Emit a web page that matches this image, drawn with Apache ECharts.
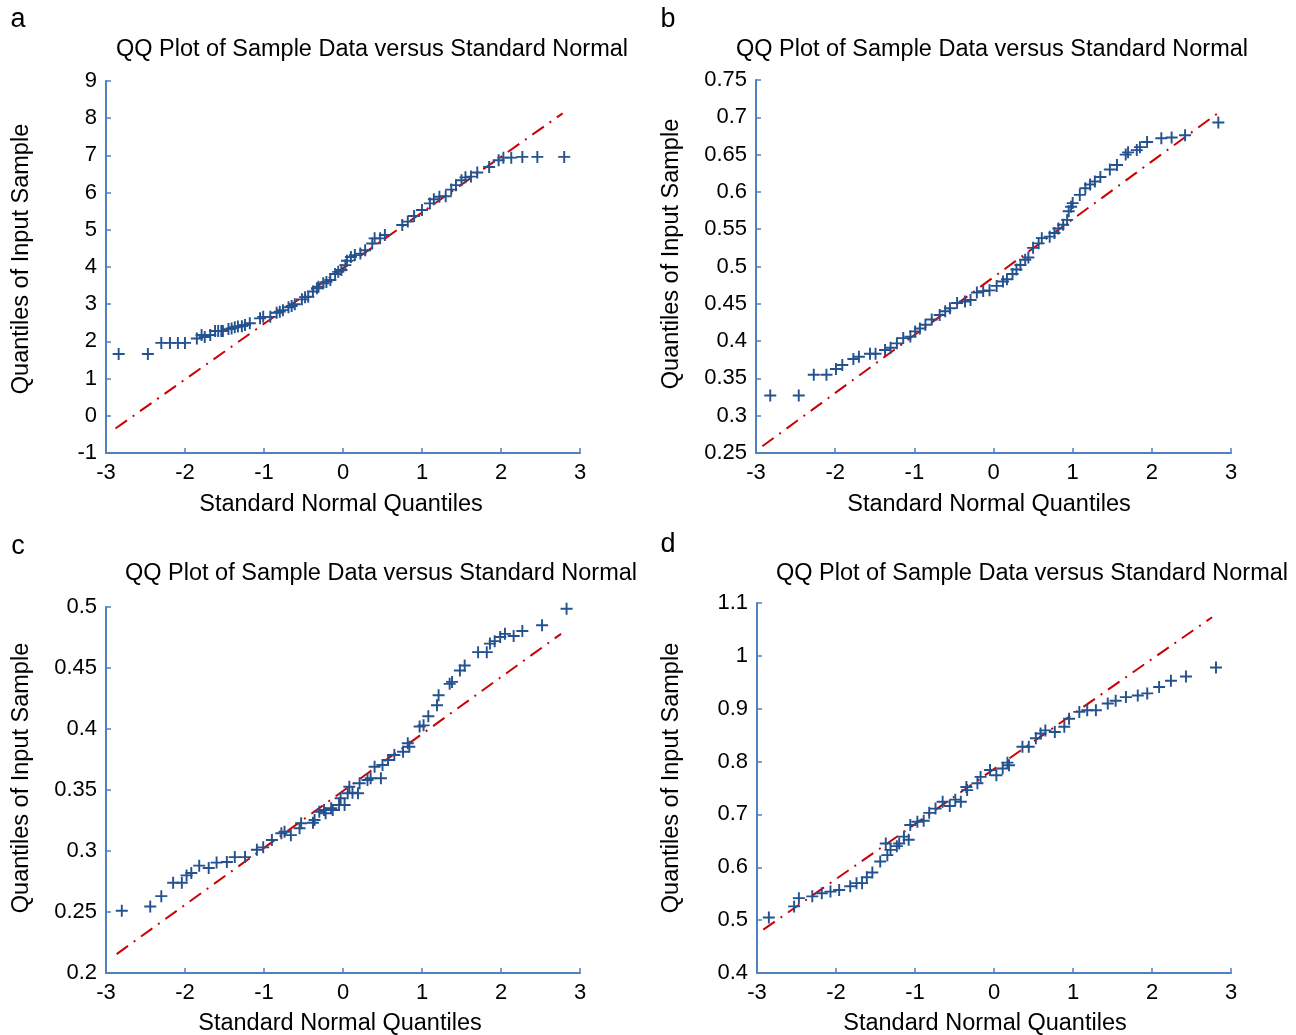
<!DOCTYPE html>
<html>
<head>
<meta charset="utf-8">
<script src="https://cdn.jsdelivr.net/npm/echarts@6/dist/echarts.min.js"></script>
<style>
html,body{margin:0;padding:0;background:#fff;}
#chart{width:1296px;height:1035px;}
</style>
</head>
<body>
<div id="chart"></div>
<script>
// ---------- DATA ----------
const xTicks = [-3, -2, -1, 0, 1, 2, 3];

// Panel a
const aX = [-2.84,-2.47,-2.30,-2.19,-2.09,-2.00,-1.85,-1.79,-1.75,-1.68,-1.62,-1.58,-1.54,-1.52,-1.45,-1.41,-1.37,-1.33,-1.28,-1.24,-1.18,-1.05,-1.01,-0.92,-0.84,-0.80,-0.76,-0.69,-0.65,-0.61,-0.52,-0.48,-0.44,-0.38,-0.33,-0.31,-0.25,-0.21,-0.16,-0.10,-0.06,-0.02,0.03,0.05,0.10,0.15,0.22,0.28,0.37,0.40,0.47,0.53,0.75,0.82,0.90,1.00,1.10,1.15,1.22,1.30,1.37,1.43,1.50,1.55,1.62,1.70,1.85,1.97,2.03,2.13,2.27,2.46,2.80];
const aY = [1.66,1.66,1.96,1.96,1.96,1.96,2.08,2.17,2.12,2.17,2.28,2.28,2.28,2.28,2.33,2.35,2.38,2.40,2.41,2.44,2.49,2.62,2.66,2.66,2.77,2.80,2.84,2.92,2.95,3.00,3.13,3.19,3.20,3.34,3.43,3.47,3.56,3.60,3.65,3.81,3.87,3.92,4.05,4.17,4.27,4.32,4.36,4.45,4.63,4.77,4.77,4.86,5.13,5.22,5.37,5.53,5.71,5.82,5.89,5.90,6.08,6.20,6.33,6.41,6.43,6.54,6.69,6.87,6.94,6.94,6.96,6.96,6.96];
const aLineX = [-2.88, 2.78];
const aLineY = [-0.34, 8.13];

// Panel b
const bX = [-2.82,-2.46,-2.27,-2.11,-1.99,-1.91,-1.77,-1.70,-1.56,-1.49,-1.37,-1.30,-1.22,-1.14,-1.05,-0.99,-0.93,-0.86,-0.78,-0.68,-0.61,-0.55,-0.46,-0.36,-0.29,-0.21,-0.13,-0.05,0.04,0.12,0.17,0.24,0.29,0.34,0.40,0.44,0.50,0.57,0.61,0.71,0.77,0.82,0.88,0.93,0.95,0.98,1.00,1.09,1.16,1.22,1.28,1.35,1.47,1.56,1.67,1.70,1.81,1.85,1.94,2.12,2.25,2.42,2.84];
const bY = [0.327,0.327,0.355,0.355,0.3625,0.368,0.376,0.379,0.383,0.383,0.388,0.391,0.397,0.404,0.406,0.413,0.417,0.422,0.429,0.435,0.440,0.444,0.451,0.453,0.455,0.465,0.467,0.468,0.474,0.480,0.483,0.490,0.496,0.502,0.509,0.512,0.525,0.531,0.538,0.540,0.545,0.551,0.556,0.5625,0.574,0.580,0.585,0.596,0.605,0.610,0.614,0.620,0.630,0.636,0.650,0.653,0.656,0.660,0.667,0.672,0.673,0.676,0.693];
const bLineX = [-2.92, 2.86];
const bLineY = [0.259, 0.7076];

// Panel c
const cX = [-2.80,-2.44,-2.30,-2.15,-2.04,-1.98,-1.92,-1.82,-1.70,-1.60,-1.47,-1.37,-1.24,-1.09,-1.01,-0.90,-0.78,-0.74,-0.66,-0.55,-0.53,-0.38,-0.36,-0.30,-0.24,-0.22,-0.15,-0.13,-0.05,-0.03,0.02,0.06,0.08,0.12,0.19,0.21,0.31,0.35,0.40,0.48,0.50,0.57,0.65,0.76,0.82,0.84,0.97,1.02,1.08,1.19,1.21,1.35,1.38,1.48,1.54,1.71,1.82,1.86,1.92,1.99,2.05,2.16,2.27,2.52,2.83];
const cY = [0.251,0.2545,0.263,0.274,0.274,0.280,0.282,0.288,0.286,0.2905,0.291,0.295,0.295,0.301,0.303,0.309,0.3145,0.3158,0.313,0.3186,0.3227,0.3232,0.3254,0.3322,0.3336,0.331,0.335,0.3336,0.3377,0.3432,0.3377,0.3473,0.3527,0.3478,0.3473,0.3555,0.3582,0.3596,0.369,0.3596,0.3705,0.3746,0.3787,0.3814,0.3883,0.3855,0.402,0.403,0.4105,0.4195,0.4277,0.437,0.4386,0.448,0.452,0.463,0.463,0.470,0.472,0.4754,0.478,0.4762,0.4803,0.485,0.4986];
const cLineX = [-2.865, 2.76];
const cLineY = [0.2155, 0.478];

// Panel d
const dX = [-2.85,-2.53,-2.47,-2.30,-2.18,-2.07,-1.96,-1.82,-1.74,-1.67,-1.61,-1.54,-1.44,-1.35,-1.37,-1.31,-1.23,-1.20,-1.14,-1.08,-1.06,-0.97,-0.89,-0.82,-0.74,-0.65,-0.56,-0.49,-0.42,-0.35,-0.34,-0.21,-0.17,-0.05,0.03,0.11,0.17,0.19,0.36,0.44,0.53,0.59,0.65,0.77,0.89,0.95,1.08,1.18,1.29,1.44,1.54,1.67,1.82,1.94,2.09,2.24,2.43,2.81];
const dY = [0.505,0.526,0.5416,0.545,0.551,0.554,0.557,0.564,0.570,0.570,0.581,0.590,0.611,0.623,0.645,0.633,0.640,0.645,0.658,0.652,0.680,0.686,0.688,0.703,0.711,0.724,0.716,0.728,0.724,0.752,0.746,0.759,0.771,0.784,0.774,0.787,0.798,0.793,0.828,0.828,0.844,0.853,0.859,0.856,0.866,0.881,0.894,0.897,0.897,0.910,0.915,0.922,0.925,0.929,0.941,0.953,0.961,0.978];
const dLineX = [-2.92, 2.76];
const dLineY = [0.482, 1.073];

// y-axis ranges / ticks
const aYAxis = {min: -1, max: 9, interval: 1};
const bYAxis = {min: 0.25, max: 0.75, interval: 0.05};
const cYAxis = {min: 0.2, max: 0.5, interval: 0.05};
const dYAxis = {min: 0.4, max: 1.1, interval: 0.1};

// text
const panelLetters = ['a', 'b', 'c', 'd'];
const titleText = 'QQ Plot of Sample Data versus Standard Normal';
const xName = 'Standard Normal Quantiles';
const yName = 'Quantiles of Input Sample';

// ---------- CHART ----------
const FONT = "'Liberation Sans', Arial, sans-serif";
const AXIS_COLOR = '#4f81bd';
const MARK_COLOR = '#24528f';
const LINE_COLOR = '#cc0000';
const PLUS = 'path://M0,42H100V58H0Z M42,0H58V100H42Z';

const grids = [
  {left: 106, top: 81, width: 474, height: 372},
  {left: 756, top: 80, width: 475, height: 373},
  {left: 106, top: 607, width: 474, height: 366},
  {left: 757, top: 603, width: 474, height: 370}
];
const yAxes = [aYAxis, bYAxis, cYAxis, dYAxis];
const pts = [[aX, aY], [bX, bY], [cX, cY], [dX, dY]];
const lines = [[aLineX, aLineY], [bLineX, bLineY], [cLineX, cLineY], [dLineX, dLineY]];

const axisCommon = () => ({
  axisLine: {show: true, onZero: false, lineStyle: {color: AXIS_COLOR, width: 2}},
  axisTick: {show: true, inside: true, length: 5, lineStyle: {color: AXIS_COLOR, width: 1.5}},
  splitLine: {show: false},
  axisLabel: {color: '#000', fontSize: 22, fontFamily: FONT, margin: 9}
});

const option = {
  animation: false,
  backgroundColor: '#fff',
  grid: grids.map(g => Object.assign({containLabel: false}, g)),
  xAxis: grids.map((g, i) => Object.assign({
    type: 'value', gridIndex: i,
    min: xTicks[0], max: xTicks[xTicks.length - 1], interval: 1
  }, axisCommon())),
  yAxis: yAxes.map((y, i) => Object.assign({
    type: 'value', gridIndex: i,
    min: y.min, max: y.max, interval: y.interval
  }, axisCommon())),
  series: [],
  graphic: []
};

pts.forEach((p, i) => {
  option.series.push({
    type: 'line', xAxisIndex: i, yAxisIndex: i,
    data: lines[i][0].map((x, k) => [x, lines[i][1][k]]),
    symbol: 'none', silent: true,
    lineStyle: {color: LINE_COLOR, width: 2, type: [14, 7, 2, 7]},
    z: 2
  });
  option.series.push({
    type: 'scatter', xAxisIndex: i, yAxisIndex: i,
    data: p[0].map((x, k) => [x, p[1][k]]),
    symbol: PLUS, symbolSize: 12,
    itemStyle: {color: MARK_COLOR, opacity: 1},
    z: 3
  });
});

const textStyle = (txt, size) => ({text: txt, fill: '#000', font: size + 'px ' + FONT, align: 'center', verticalAlign: 'middle'});
const letterPos = [[18, 20], [668, 20], [18, 547], [668, 545]];
const titlePos = [[372, 50], [992, 50], [381, 574], [1032, 574]];
const xNamePos = [[341, 505], [989, 505], [340, 1024], [985, 1024]];
const yNamePos = [[22, 259], [672, 254], [22, 778], [672, 778]];

for (let i = 0; i < 4; i++) {
  option.graphic.push({type: 'text', x: letterPos[i][0], y: letterPos[i][1], style: textStyle(panelLetters[i], 27)});
  option.graphic.push({type: 'text', x: titlePos[i][0], y: titlePos[i][1], style: textStyle(titleText, 23.5)});
  option.graphic.push({type: 'text', x: xNamePos[i][0], y: xNamePos[i][1], style: textStyle(xName, 23.5)});
  option.graphic.push({type: 'text', x: yNamePos[i][0], y: yNamePos[i][1], rotation: Math.PI / 2, style: textStyle(yName, 23.5)});
}

const chart = echarts.init(document.getElementById('chart'), null, {renderer: 'canvas'});
chart.setOption(option);
</script>
</body>
</html>
